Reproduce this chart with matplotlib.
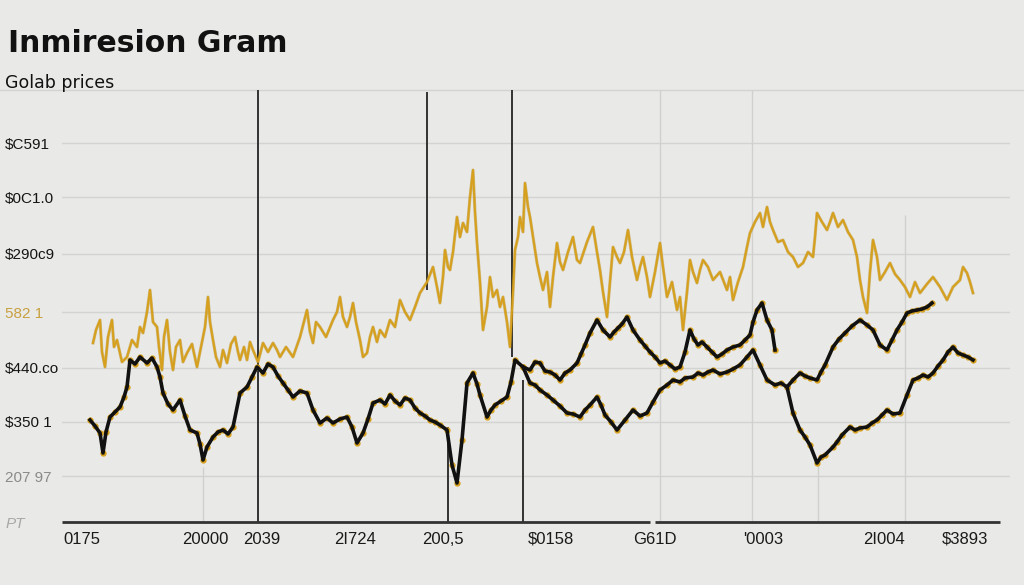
import matplotlib
matplotlib.use("Agg")
import matplotlib.pyplot as plt

# ---- data ----
gold_t = [93, 96, 100, 102, 105, 108, 112, 114, 117, 122, 127, 132, 137, 140, 143, 147,
          150, 153, 157, 159, 162, 164, 167, 170, 173, 176, 180, 183, 187, 192, 197, 201,
          205, 208, 210, 213, 216, 220, 223, 227, 231, 235, 238, 240, 244, 247, 250, 253,
          258, 263, 268, 273, 277, 280, 286, 293, 300, 307, 310, 313, 316, 320, 326, 333,
          337, 340, 343, 347, 350, 353, 356, 360, 363, 367, 370, 373, 377, 380, 385, 390,
          395, 400, 405, 410, 415, 420, 427, 433, 437, 440, 443, 445, 448, 450, 453, 457,
          460, 463, 467, 470, 473, 475, 477, 480, 483, 487, 490, 493, 497, 500, 503, 507,
          510, 513, 515, 518, 520, 523, 525, 528, 530, 533, 537, 540, 543, 547, 550, 553,
          557, 560, 563, 568, 573, 577, 580, 587, 593, 597, 600, 603, 607, 610, 613, 617,
          620, 624, 628, 632, 637, 640, 643, 647, 650, 655, 660, 663, 667, 672, 677, 680,
          683, 687, 690, 693, 697, 700, 703, 708, 713, 720, 727, 730, 733, 738, 743, 747,
          750, 755, 760, 763, 767, 770, 773, 778, 783, 788, 793, 798, 803, 808, 813, 815,
          817, 822, 827, 830, 833, 838, 843, 848, 853, 857, 860, 863, 867, 870, 873, 877,
          880, 885, 890, 895, 900, 905, 910, 915, 920, 927, 933, 940, 947, 953, 960, 963,
          967, 970, 973]
gold_v = [179, 192, 202, 170, 155, 185, 202, 175, 182, 160, 165, 182, 175, 195, 189, 210,
          232, 200, 195, 175, 152, 185, 202, 170, 152, 175, 182, 160, 169, 178, 155, 175,
          195, 225, 200, 182, 165, 155, 172, 159, 178, 185, 170, 162, 175, 162, 180, 172,
          160, 179, 170, 179, 172, 165, 175, 165, 185, 212, 190, 179, 200, 195, 185, 202,
          210, 225, 205, 195, 205, 219, 200, 182, 165, 169, 185, 195, 180, 192, 185, 202,
          195, 222, 210, 202, 215, 229, 240, 255, 235, 219, 245, 272, 255, 252, 270, 305,
          285, 299, 290, 325, 352, 310, 279, 240, 192, 215, 245, 225, 232, 215, 225, 200,
          175, 230, 272, 285, 305, 290, 339, 315, 305, 285, 259, 245, 232, 250, 215, 245,
          279, 260, 252, 270, 285, 262, 259, 280, 295, 270, 252, 230, 205, 240, 275, 265,
          259, 270, 292, 265, 242, 255, 265, 245, 225, 250, 279, 255, 225, 240, 212, 225,
          192, 230, 262, 250, 239, 252, 262, 255, 242, 250, 232, 245, 222, 240, 255, 275,
          289, 300, 309, 295, 315, 300, 292, 280, 282, 270, 265, 255, 259, 270, 265, 285,
          309, 300, 292, 300, 309, 295, 302, 290, 282, 265, 242, 225, 209, 250, 282, 265,
          242, 250, 259, 248, 242, 235, 225, 240, 229, 238, 245, 235, 222, 235, 242, 255,
          249, 240, 229]

black1_t = [90, 95, 100, 103, 106, 110, 115, 120, 124, 127, 130, 135, 140, 147, 152, 157,
            160, 163, 168, 173, 180, 185, 190, 197, 200, 203, 207, 213, 218, 223, 228, 233,
            240, 247, 252, 257, 263, 268, 273, 278, 283, 288, 293, 300, 307, 313, 320, 327,
            333, 340, 347, 352, 357, 363, 368, 373, 380, 385, 390, 395, 400, 405, 410, 415,
            420, 425, 430, 435, 440, 447, 452, 457, 462, 467, 473, 477, 480, 487, 491, 495,
            501, 507, 511, 515, 523, 530, 535, 540, 545, 550, 555, 560, 565, 570, 577, 581,
            585, 590, 597, 603, 610, 614, 618, 622, 627, 633, 640, 645, 650, 655, 660, 665,
            670, 675, 680, 685, 690, 694, 698, 702, 707, 712, 717, 722, 727, 733, 740, 745,
            750, 753, 757, 762, 767, 772, 775]
black1_v = [102, 96, 89, 69, 90, 105, 110, 115, 125, 135, 162, 158, 165, 159, 164, 155,
            145, 129, 118, 112, 122, 106, 92, 89, 78, 62, 75, 85, 90, 92, 88, 95,
            129, 135, 145, 155, 149, 158, 155, 146, 139, 132, 125, 131, 129, 112, 99, 104,
            99, 103, 105, 95, 79, 89, 103, 119, 122, 118, 127, 121, 117, 124, 122, 114,
            109, 106, 102, 100, 97, 92, 57, 39, 82, 139, 149, 138, 127, 105, 112, 117,
            121, 125, 140, 162, 155, 152, 160, 159, 151, 150, 147, 142, 149, 152, 159, 168,
            177, 189, 202, 192, 185, 190, 194, 198, 205, 192, 182, 176, 170, 165, 159, 161,
            157, 153, 155, 170, 192, 183, 177, 180, 175, 170, 165, 168, 172, 175, 177, 182,
            187, 200, 212, 219, 202, 192, 172]

black2_t = [523, 530, 535, 540, 547, 553, 560, 567, 573, 580, 585, 590, 597, 601, 605, 611,
            617, 625, 633, 640, 647, 653, 660, 667, 673, 680, 685, 693, 698, 703, 708, 713,
            720, 727, 733, 740, 747, 753, 760, 767, 775, 781, 787, 793, 800, 805, 810, 817,
            821, 825, 833, 837, 842, 850, 855, 860, 867, 872, 877, 882, 887, 893, 900, 907,
            913, 918, 923, 928, 933, 938, 943, 948, 953, 958, 963, 968, 973]
black2_v = [155, 139, 137, 132, 127, 122, 116, 109, 108, 105, 112, 117, 125, 117, 107, 100,
            92, 102, 112, 106, 109, 120, 132, 137, 142, 140, 144, 145, 149, 147, 150, 152,
            148, 150, 153, 157, 165, 172, 157, 142, 137, 139, 135, 109, 92, 85, 77, 59,
            65, 67, 75, 80, 87, 95, 92, 94, 95, 99, 102, 107, 112, 108, 109, 127,
            142, 144, 147, 145, 149, 156, 162, 170, 175, 169, 167, 165, 162]

black3_t = [787, 793, 800, 805, 810, 817, 821, 825, 833, 839, 845, 852, 860, 867, 873, 880,
            887, 892, 897, 902, 907, 912, 917, 922, 927, 932]
black3_v = [135, 142, 149, 146, 144, 142, 150, 157, 175, 183, 189, 196, 202, 197, 192, 177,
            172, 182, 192, 200, 209, 211, 212, 213, 215, 219]

y_ticks = [0, 46, 100, 154, 210, 268, 325, 379]
y_labels = ["PT", "207 97", "$350 1", "$440.co", "582 1", "$290c9", "$0C1.0", "$C591"]
y_label_colors = ["#a8a8a8", "#8a8a8a", "#151515", "#151515", "#c9a040", "#151515", "#151515", "#151515"]

x_ticks = [82, 205, 262, 355, 443, 551, 655, 763, 884, 965]
x_labels = ["0175", "20000", "2039", "2I724", "200,5", "$0158", "G61D", "'0003", "2I004", "$3893"]

BG = "#e9e9e7"
GOLD = "#d6a01c"
BLACK = "#111111"

fig = plt.figure(figsize=(10.24, 5.85), dpi=100, facecolor=BG)
ax = fig.add_axes([62 / 1024, 63 / 585, (1010 - 62) / 1024, (522 - 90) / 585], facecolor=BG)
ax.set_xlim(62, 1010)
ax.set_ylim(0, 432)

for s in ax.spines.values():
    s.set_visible(False)

# horizontal grid
for v in y_ticks[1:]:
    ax.axhline(v, color="#d3d3d1", lw=1, zorder=0)
ax.axhline(432, xmin=-0.07, xmax=1.02, color="#d3d3d1", lw=1, zorder=0, clip_on=False)

# light vertical lines
ax.vlines([660, 752], 0, 432, color="#d0d0ce", lw=1, zorder=0)
ax.vlines([203], 0, 55, color="#d0d0ce", lw=1, zorder=0)
ax.vlines([818], 0, 60, color="#d0d0ce", lw=1, zorder=0)
ax.vlines([905], 0, 307, color="#d0d0ce", lw=1, zorder=0)

# dark vertical lines
ax.vlines([258], 0, 435, color="#333333", lw=1.4, zorder=1)
ax.vlines([427], 232, 430, color="#333333", lw=1.4, zorder=1)
ax.vlines([512], 165, 435, color="#333333", lw=1.4, zorder=1)
ax.vlines([448], 0, 95, color="#333333", lw=1.4, zorder=1)
ax.vlines([523], 0, 142, color="#333333", lw=1.4, zorder=1)

# bottom axis line with a small gap
ax.hlines(0, 62, 650, color="#333333", lw=2, clip_on=False, zorder=3)
ax.hlines(0, 655, 1000, color="#333333", lw=2, clip_on=False, zorder=3)

# series
ax.plot(gold_t, gold_v, color="#b8860b", lw=2.2, alpha=0.5, zorder=2)
ax.plot(gold_t, gold_v, color=GOLD, lw=1.4, zorder=2)
for t, v in [(black1_t, black1_v), (black2_t, black2_v), (black3_t, black3_v)]:
    ax.plot(t, v, color=GOLD, lw=0, marker="o", ms=3.5, zorder=3)
    ax.plot(t, v, color=BLACK, lw=2.6, zorder=4)

# ticks
ax.set_yticks(y_ticks)
ax.set_yticklabels(y_labels, fontsize=11, family="Liberation Sans")
ax.tick_params(axis="y", length=0, pad=41)
for lab, c in zip(ax.get_yticklabels(), y_label_colors):
    lab.set_horizontalalignment("left")
    lab.set_color(c)
ax.get_yticklabels()[0].set_style("italic")

ax.set_xticks(x_ticks)
ax.set_xticklabels(x_labels, fontsize=12, family="Liberation Sans", color="#1a1a1a")
ax.tick_params(axis="x", length=0, pad=7)

fig.text(8 / 1024, 1 - 52 / 585, "Inmiresion Gram", fontsize=21.5, fontweight="bold",
         color="#111111", va="baseline")
fig.text(5 / 1024, 1 - 88 / 585, "Golab prices", fontsize=12.5, color="#111111", va="baseline")

fig.savefig("out.png", dpi=100, facecolor=BG)
